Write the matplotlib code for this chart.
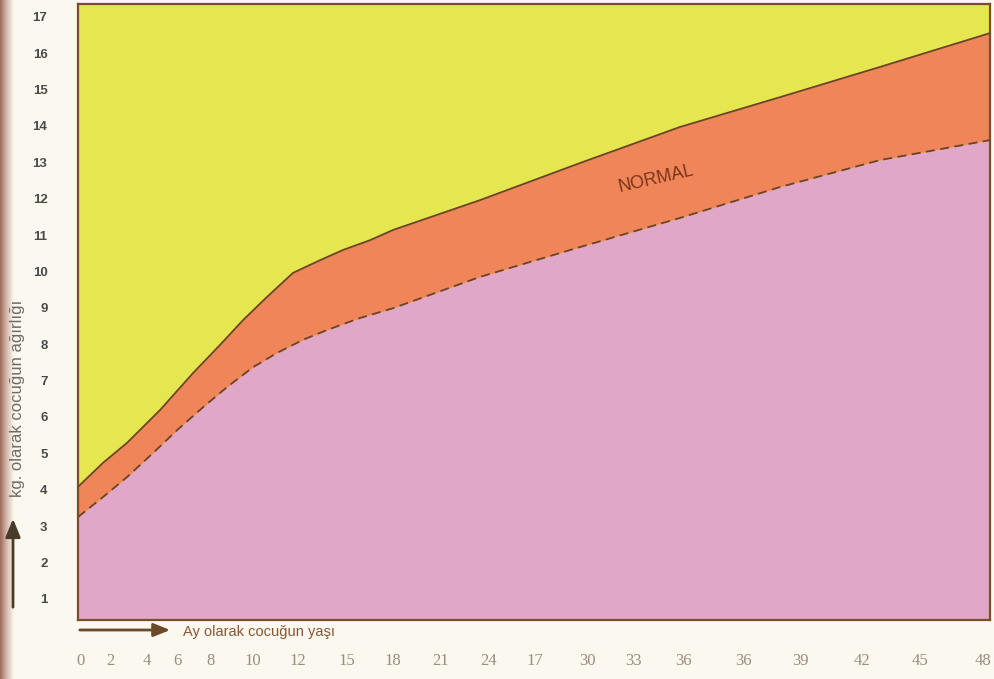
import numpy as np
import matplotlib
matplotlib.use("Agg")
import matplotlib.pyplot as plt
from matplotlib.colors import LinearSegmentedColormap

# ---- data ----
x_tick_labels = ["0", "2", "4", "6", "8", "10", "12", "15", "18", "21", "24",
                 "17", "30", "33", "36", "36", "39", "42", "45", "48"]
x_tick_at = [0, 1.6, 3.56, 5.16, 6.91, 9.2, 11.59, 14.19, 16.64, 19.14, 21.69,
             24.19, 26.95, 29.4, 32.05, 35.24, 38.27, 41.57, 44.65, 48]
y_ticks = list(range(1, 18))

age = [-0.11, 1.22, 2.5, 4.25, 6.01, 7.44, 8.66, 9.94, 11.32, 12.76, 13.98,
       15.42, 16.64, 21.26, 26.58, 31.89, 37.21, 42.52, 48.37]
upper_kg = [4.08, 4.74, 5.29, 6.19, 7.21, 7.98, 8.66, 9.30, 9.96, 10.31, 10.59,
            10.86, 11.14, 11.96, 12.98, 13.97, 14.79, 15.62, 16.55]

age_low = [-0.11, 1.22, 2.5, 3.88, 5.16, 6.54, 7.81, 9.2, 10.47, 11.85, 13.13,
           14.88, 16.64, 21.26, 26.58, 31.89, 37.21, 42.52, 48.37]
lower_kg = [3.25, 3.80, 4.35, 5.01, 5.64, 6.27, 6.82, 7.37, 7.76, 8.12, 8.39,
            8.72, 8.99, 9.85, 10.67, 11.47, 12.32, 13.06, 13.61]

x_title = "Ay olarak cocuğun yaşı"
y_title = "kg. olarak cocuğun ağırlığı"
band_label = "NORMAL"

# ---- style ----
page = "#fbf8ef"
yellow = "#e6e650"
orange = "#f0855a"
pink = "#e1a7c8"
frame = "#7a4e2c"
line_c = "#6a4326"

fig = plt.figure(figsize=(9.95, 6.79), dpi=100, facecolor=page)

# book binding shadow on the left edge
gax = fig.add_axes([0, 0, 0.014, 1])
grad = np.linspace(0, 1, 64).reshape(1, -1)
cmap = LinearSegmentedColormap.from_list("bind", ["#9c6a58", "#d8bcb0", page])
gax.imshow(grad, aspect="auto", cmap=cmap, extent=[0, 1, 0, 1])
gax.axis("off")

ax = fig.add_axes([0.0784, 0.0869, 0.9166, 0.9072])
xmin, xmax = -0.11, 48.37
ymin, ymax = 0.42, 17.35
ax.set_xlim(xmin, xmax)
ax.set_ylim(ymin, ymax)
ax.set_facecolor(yellow)

# pink region below the lower curve
ax.fill_between(age_low, ymin, lower_kg, color=pink, lw=0, zorder=1)
# orange band between curves
ax_all = np.array(sorted(set(age) | set(age_low)))
up_i = np.interp(ax_all, age, upper_kg)
lo_i = np.interp(ax_all, age_low, lower_kg)
ax.fill_between(ax_all, lo_i, up_i, color=orange, lw=0, zorder=1)

ax.plot(age, upper_kg, color=line_c, lw=1.3, zorder=3)
ax.plot(age_low, lower_kg, color=line_c, lw=1.3, dashes=(5, 3), zorder=3)

ax.text(30.6, 12.55, band_label, rotation=13, ha="center", va="center",
        fontsize=13, color="#7a3418", family="Liberation Sans", zorder=4)

for s in ax.spines.values():
    s.set_color(frame)
    s.set_linewidth(1.6)

ax.set_yticks(y_ticks)
ax.set_yticklabels([str(v) for v in y_ticks], fontsize=9.5, fontweight="bold",
                   color="#4a4a4a", family="Liberation Sans")
ax.tick_params(axis="y", length=0, pad=22)

ax.set_xticks(x_tick_at)
ax.set_xticklabels(x_tick_labels, fontsize=12, color="#9a8c80",
                   family="Liberation Serif")
ax.tick_params(axis="x", length=0, pad=24)

# x axis title with arrow
fig.text(183 / 995, 1 - 632 / 679, x_title, ha="left", va="center",
         fontsize=10.5, color="#8a5636", family="Liberation Sans")
fig.patches.append(matplotlib.patches.FancyArrowPatch(
    (77 / 995, 1 - 630 / 679), (173 / 995, 1 - 630 / 679),
    transform=fig.transFigure, arrowstyle="-|>,head_length=10,head_width=4",
    color="#6b4a2a", lw=2, mutation_scale=1))

# y axis title with arrow
fig.text(18 / 995, 1 - 398 / 679, y_title, ha="center", va="center",
         rotation=90, fontsize=12, color="#6e6a66", family="Liberation Sans")
fig.patches.append(matplotlib.patches.FancyArrowPatch(
    (13 / 995, 1 - 610 / 679), (13 / 995, 1 - 516 / 679),
    transform=fig.transFigure, arrowstyle="-|>,head_length=11,head_width=4.5",
    color="#4a3a2a", lw=2, mutation_scale=1))

fig.savefig("out.png", dpi=100, facecolor=page)
